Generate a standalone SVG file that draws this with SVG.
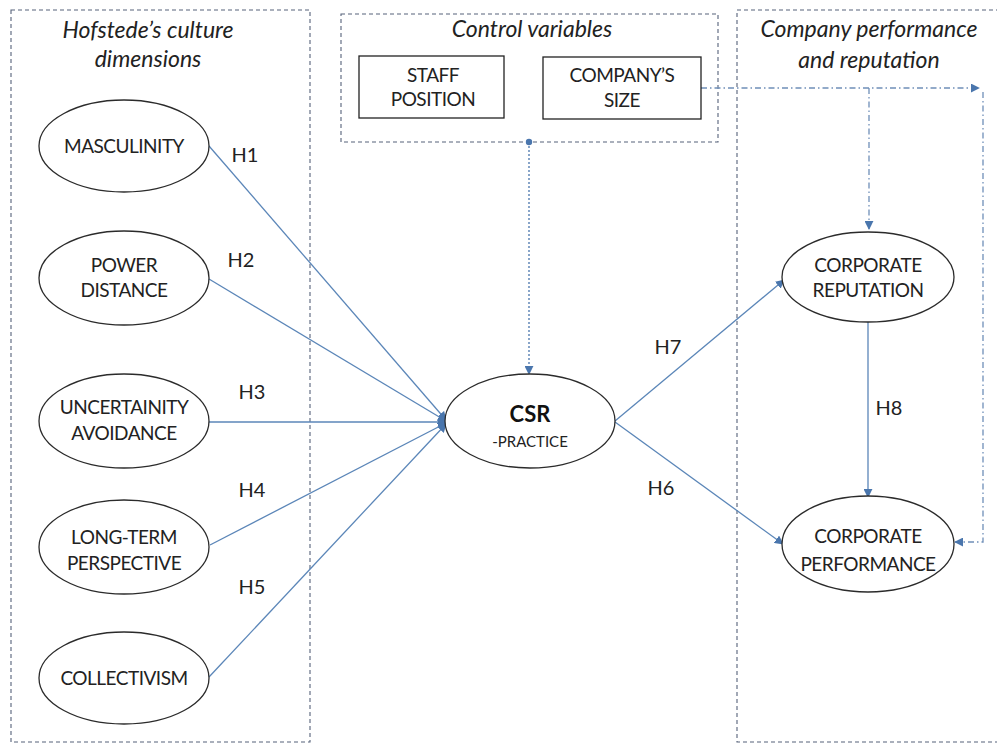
<svg xmlns="http://www.w3.org/2000/svg" width="997" height="744" viewBox="0 0 997 744">
<defs>
<marker id="ah" viewBox="0 0 10 10" refX="9" refY="5" markerWidth="9" markerHeight="9" markerUnits="userSpaceOnUse" orient="auto"><path d="M0,0 L10,5 L0,10 z" fill="#4a76ad"/></marker>
<style>
.frame{fill:none;stroke:#56627a;stroke-width:1.1;stroke-dasharray:4,3}
.node{fill:#fff;stroke:#2b2b2b;stroke-width:1.3}
.lbl{font-family:Lato,"Liberation Sans",sans-serif;font-size:19px;letter-spacing:-0.5px;fill:#222;text-anchor:middle}
.ttl{font-family:Lato,"Liberation Sans",sans-serif;font-size:23px;font-style:italic;fill:#222;text-anchor:middle}
.h{font-family:Lato,"Liberation Sans",sans-serif;font-size:20px;fill:#222;text-anchor:middle}
.conn{fill:none;stroke:#5b86b8;stroke-width:1.3}
.dd{fill:none;stroke:#6f8fb8;stroke-width:1.3;stroke-dasharray:6,3,1.5,3}
.dot{fill:none;stroke:#4a76ad;stroke-width:1.3;stroke-dasharray:2,2}
</style>
</defs>
<rect width="997" height="744" fill="#fff"/>
<g id="frames">
<rect class="frame" x="11" y="10" width="299" height="732"/>
<rect class="frame" x="341" y="14" width="377" height="128"/>
<path class="frame" d="M1000,10 H737 V742 H1000"/>
</g>
<g id="titles">
<text class="ttl" x="148" y="38">Hofstede’s culture</text>
<text class="ttl" x="148" y="67">dimensions</text>
<text class="ttl" x="532" y="37">Control variables</text>
<text class="ttl" x="869" y="37">Company performance</text>
<text class="ttl" x="869" y="68">and reputation</text>
</g>
<g id="connectors">
<line class="conn" x1="209" y1="146" x2="446" y2="420" marker-end="url(#ah)"/>
<line class="conn" x1="209" y1="279" x2="446" y2="421" marker-end="url(#ah)"/>
<line class="conn" x1="209" y1="422" x2="446" y2="422" marker-end="url(#ah)"/>
<line class="conn" x1="210" y1="545" x2="446" y2="423" marker-end="url(#ah)"/>
<line class="conn" x1="209" y1="677" x2="446" y2="424" marker-end="url(#ah)"/>
<line class="conn" x1="615" y1="421" x2="784" y2="280" marker-end="url(#ah)"/>
<line class="conn" x1="615" y1="422" x2="783" y2="544" marker-end="url(#ah)"/>
<line class="conn" x1="868" y1="322" x2="868" y2="497" marker-end="url(#ah)"/>
<circle cx="529" cy="142" r="3.2" fill="#4a76ad"/>
<line class="dot" x1="529" y1="142" x2="529" y2="374" marker-end="url(#ah)"/>
<line class="dd" x1="701" y1="88" x2="979" y2="88" marker-end="url(#ah)"/>
<line class="dd" x1="869" y1="88" x2="869" y2="229" marker-end="url(#ah)"/>
<polyline class="dd" points="983,92 983,542 955,542" marker-end="url(#ah)"/>
</g>
<g id="staff-position">
<rect x="359" y="56" width="145" height="62" fill="#fff" stroke="#222" stroke-width="1.3"/>
<text class="lbl" x="433" y="82">STAFF</text>
<text class="lbl" x="433" y="106">POSITION</text>
</g>
<g id="company-size">
<rect x="543" y="57" width="158" height="62" fill="#fff" stroke="#222" stroke-width="1.3"/>
<text class="lbl" x="622" y="82">COMPANY’S</text>
<text class="lbl" x="622" y="107">SIZE</text>
</g>
<g id="masculinity">
<ellipse class="node" cx="124" cy="146" rx="85" ry="46"/>
<text class="lbl" x="124" y="153">MASCULINITY</text>
</g>
<g id="power-distance">
<ellipse class="node" cx="124" cy="278" rx="85" ry="47"/>
<text class="lbl" x="124" y="272">POWER</text>
<text class="lbl" x="124" y="297">DISTANCE</text>
</g>
<g id="uncertainity-avoidance">
<ellipse class="node" cx="124" cy="421" rx="85" ry="47"/>
<text class="lbl" x="124" y="414">UNCERTAINITY</text>
<text class="lbl" x="124" y="440">AVOIDANCE</text>
</g>
<g id="long-term">
<ellipse class="node" cx="124" cy="547" rx="85" ry="47"/>
<text class="lbl" x="124" y="544">LONG-TERM</text>
<text class="lbl" x="124" y="570">PERSPECTIVE</text>
</g>
<g id="collectivism">
<ellipse class="node" cx="124" cy="678" rx="85" ry="46"/>
<text class="lbl" x="124" y="685">COLLECTIVISM</text>
</g>
<g id="csr">
<ellipse class="node" cx="530" cy="421" rx="85" ry="47"/>
<text x="530" y="422" font-family="Lato,'Liberation Sans',sans-serif" font-size="22" font-weight="bold" fill="#111" text-anchor="middle">CSR</text>
<text x="530" y="447" font-family="Lato,'Liberation Sans',sans-serif" font-size="15" fill="#222" text-anchor="middle">-PRACTICE</text>
</g>
<g id="corporate-reputation">
<ellipse class="node" cx="868" cy="277" rx="86" ry="45"/>
<text class="lbl" x="868" y="272">CORPORATE</text>
<text class="lbl" x="868" y="297">REPUTATION</text>
</g>
<g id="corporate-performance">
<ellipse class="node" cx="868" cy="544" rx="86" ry="48"/>
<text class="lbl" x="868" y="543">CORPORATE</text>
<text class="lbl" x="868" y="571">PERFORMANCE</text>
</g>
<g id="labels">
<text class="h" x="245" y="162">H1</text>
<text class="h" x="241" y="267">H2</text>
<text class="h" x="252" y="399">H3</text>
<text class="h" x="252" y="497">H4</text>
<text class="h" x="252" y="594">H5</text>
<text class="h" x="668" y="354">H7</text>
<text class="h" x="661" y="495">H6</text>
<text class="h" x="889" y="415">H8</text>
</g>
</svg>
